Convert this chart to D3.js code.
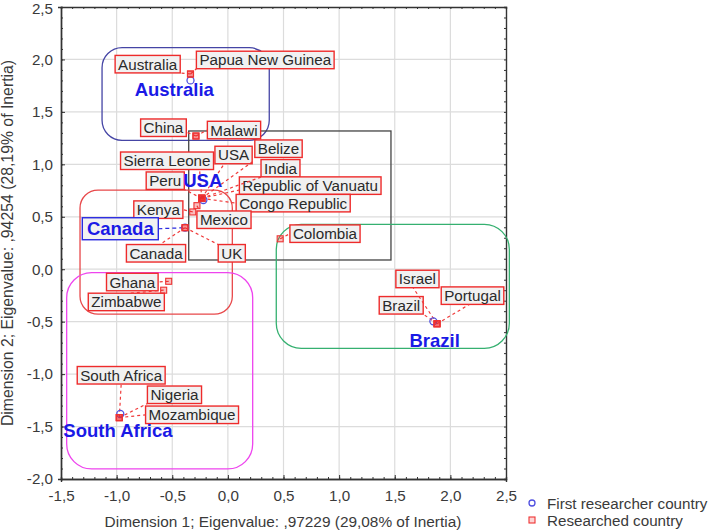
<!DOCTYPE html>
<html>
<head>
<meta charset="utf-8">
<script src="https://cdn.jsdelivr.net/npm/d3@7"></script>
<style>
  html, body { margin: 0; padding: 0; background: #fff; }
  svg { display: block; font-family: "Liberation Sans", Arial, sans-serif; }
</style>
</head>
<body>
<svg width="709" height="532"></svg>
<script>
/* Data */
const xTicks = [-1.5, -1, -0.5, 0, 0.5, 1, 1.5, 2, 2.5];
const yTicks = [-2, -1.5, -1, -0.5, 0, 0.5, 1, 1.5, 2, 2.5];

const researchedNames = ['Australia', 'Papua New Guinea', 'China', 'Malawi', 'USA', 'Belize', 'Sierra Leone', 'India',
  'Peru', 'Republic of Vanuatu', 'Congo Republic', 'Kenya', 'Mexico', 'Colombia', 'Canada', 'UK',
  'Ghana', 'Zimbabwe', 'South Africa', 'Nigeria', 'Mozambique', 'Israel', 'Portugal', 'Brazil'];
const researchedX = [-0.336, -0.336, -0.287, -0.287, -0.235, -0.235, -0.235, -0.235,
  -0.235, -0.235, -0.235, -0.316, -0.278, 0.47, -0.385, -0.385,
  -0.532, -0.577, -0.976, -0.976, -0.976, 1.88, 1.88, 1.88];
const researchedY = [1.861, 1.861, 1.27, 1.27, 0.676, 0.676, 0.676, 0.676,
  0.676, 0.676, 0.676, 0.546, 0.606, 0.29, 0.396, 0.396,
  -0.115, -0.2, -1.415, -1.415, -1.415, -0.52, -0.52, -0.52];

const firstNames = ['Australia', 'USA', 'Canada', 'South Africa', 'Brazil'];
const firstX = [-0.336, -0.22, -0.385, -0.967, 1.847];
const firstY = [1.8, 0.66, 0.396, -1.38, -0.497];

/* Label placement, in axis units: centre of box, then where the leader meets it (-1..1 of the box) */
const labelX = [-0.721, 0.336, -0.579, 0.055, 0.051, 0.455, -0.547, 0.473,
  -0.563, 0.74, 0.587, -0.625, -0.035, 0.873, -0.646, 0.035,
  -0.859, -0.913, -0.959, -0.48, -0.322, 1.704, 2.199, 1.558];
const labelY = [1.955, 1.995, 1.349, 1.327, 1.089, 1.149, 1.034, 0.962,
  0.844, 0.797, 0.63, 0.568, 0.472, 0.339, 0.152, 0.152,
  -0.122, -0.312, -1.011, -1.197, -1.388, -0.093, -0.252, -0.344];
const leaderU = [1, -1, 1, -1, -0.5, -1.1, 0.7, -1, 1, -1, -1, 1, -0.9, -1, 0.13, -1, 1, 0.1, 0, -1, -1, -0.2, -0.1, 1];
const leaderV = [1, 1, 0.5, 0, 1, 1.5, 1, 1, 1, 0.5, 0, 0, -1, 0, -1, -1, 0, -1, 1, 1, 0, 1, 1, 1];

const firstLabelX = [-0.482, -0.226, -0.967, -0.988, 1.859];
const firstLabelY = [1.709, 0.841, 0.386, -1.542, -0.684];

/* Cluster outlines, in axis units */
const clusterColors = ['#4545a5', '#444444', '#e8484a', '#35b070', '#ee44ee'];
const clusterX0 = [-1.131, -0.352, -1.329, 0.435, -1.449];
const clusterX1 = [0.372, 1.466, 0.04, 2.53, 0.223];
const clusterY0 = [1.229, 0.088, -0.429, -0.754, -1.904];
const clusterY1 = [2.112, 1.318, 0.755, 0.428, -0.033];
const clusterRadius = [20, 0, 18, 25, 25];

/* Scales */
const svg = d3.select('svg');
const x = d3.scaleLinear().domain([-1.5, 2.5]).range([61, 506]);
const y = d3.scaleLinear().domain([-2, 2.5]).range([479, 7]);
const fmt = (d) => d.toFixed(1).replace('.', ',');
const TEXT_SIZE = '15.2px';

/* Grid */
svg.append('g').selectAll('line').data(xTicks.slice(1, -1)).enter().append('line')
  .attr('x1', x).attr('x2', x).attr('y1', y(-2)).attr('y2', y(2.5))
  .attr('stroke', '#dcdcdc').attr('stroke-width', 1.2);
svg.append('g').selectAll('line').data(yTicks.slice(1, -1)).enter().append('line')
  .attr('y1', y).attr('y2', y).attr('x1', x(-1.5)).attr('x2', x(2.5))
  .attr('stroke', '#dcdcdc').attr('stroke-width', 1.2);

/* Axes */
const drawAxis = (axis, translate) => {
  const g = svg.append('g').attr('transform', translate).call(axis);
  g.selectAll('text').attr('fill', '#3a3a3a').style('font-size', TEXT_SIZE);
  g.selectAll('line').attr('stroke', '#333');
  g.select('.domain').attr('stroke', '#333').attr('stroke-width', 1.4);
  return g;
};
const minorX = d3.range(-1.5, 2.51, 0.1);
const minorY = d3.range(-2, 2.51, 0.1);
const bottom = drawAxis(d3.axisBottom(x).tickValues(xTicks).tickFormat(fmt).tickSize(3).tickPadding(8), `translate(0,${y(-2)})`);
const left = drawAxis(d3.axisLeft(y).tickValues(yTicks).tickFormat(fmt).tickSize(3).tickPadding(5), `translate(${x(-1.5)},0)`);
drawAxis(d3.axisTop(x).tickValues(minorX).tickFormat('').tickSize(-2), `translate(0,${y(2.5)})`);
drawAxis(d3.axisRight(y).tickValues(minorY).tickFormat('').tickSize(-2), `translate(${x(2.5)},0)`);
drawAxis(d3.axisBottom(x).tickValues(minorX).tickFormat('').tickSize(-2), `translate(0,${y(-2)})`);
drawAxis(d3.axisLeft(y).tickValues(minorY).tickFormat('').tickSize(-2), `translate(${x(-1.5)},0)`);
bottom.selectAll('.tick line').attr('y2', -4);
left.selectAll('.tick line').attr('x2', 4);
// top label would clip against the page edge
left.selectAll('.tick text').filter(d => d === 2.5).attr('y', 2);

/* Axis titles */
svg.append('text').attr('x', 283).attr('y', 527).attr('text-anchor', 'middle')
  .attr('fill', '#3a3a3a').style('font-size', '15.4px')
  .text('Dimension 1; Eigenvalue: ,97229 (29,08% of Inertia)');
svg.append('text').attr('transform', 'translate(13,243) rotate(-90)').attr('text-anchor', 'middle')
  .attr('fill', '#3a3a3a').style('font-size', '15.8px')
  .text('Dimension 2; Eigenvalue: ,94254 (28,19% of Inertia)');

/* Cluster outlines */
svg.append('g').selectAll('rect').data(clusterColors).enter().append('rect')
  .attr('x', (d, i) => x(clusterX0[i]))
  .attr('y', (d, i) => y(clusterY1[i]))
  .attr('width', (d, i) => x(clusterX1[i]) - x(clusterX0[i]))
  .attr('height', (d, i) => y(clusterY0[i]) - y(clusterY1[i]))
  .attr('rx', (d, i) => clusterRadius[i])
  .attr('fill', 'none').attr('stroke', d => d).attr('stroke-width', 1.3);

/* Leaders and boxed labels */
const BOX_H = 17.5;
const labels = svg.append('g');
const leaders = svg.append('g');
const boxes = labels.selectAll('g').data(researchedNames).enter().append('g');
boxes.append('rect').attr('fill', '#f1f1f1').attr('stroke', '#ee2b2b').attr('stroke-width', 1.4);
boxes.append('text')
  .attr('x', (d, i) => x(labelX[i])).attr('y', (d, i) => y(labelY[i]) + 5.5)
  .attr('text-anchor', 'middle').attr('fill', '#2a2a2a').style('font-size', TEXT_SIZE)
  .text(d => d);
boxes.each(function (d, i) {
  const w = this.querySelector('text').getComputedTextLength() + 6;
  const cx = x(labelX[i]), cy = y(labelY[i]);
  d3.select(this).select('rect')
    .attr('x', cx - w / 2).attr('y', cy - BOX_H / 2)
    .attr('width', w).attr('height', BOX_H);
  leaders.append('line')
    .attr('x1', x(researchedX[i])).attr('y1', y(researchedY[i]))
    .attr('x2', cx + leaderU[i] * w / 2).attr('y2', cy + leaderV[i] * BOX_H / 2)
    .attr('stroke', '#f03a3a').attr('stroke-width', 1.2).attr('stroke-dasharray', '3,3');
});

/* Blue dashed leader for the Canada box */
const CANADA = firstNames.indexOf('Canada');
svg.append('line')
  .attr('x1', x(firstLabelX[CANADA]) + 38).attr('x2', x(firstX[CANADA]))
  .attr('y1', y(firstLabelY[CANADA])).attr('y2', y(firstY[CANADA]))
  .attr('stroke', '#2a2ae0').attr('stroke-width', 1.2).attr('stroke-dasharray', '4,3');

/* Points */
svg.append('g').selectAll('circle').data(firstNames).enter().append('circle')
  .attr('cx', (d, i) => x(firstX[i])).attr('cy', (d, i) => y(firstY[i])).attr('r', 3.5)
  .attr('fill', 'none').attr('stroke', '#5050e0').attr('stroke-width', 1.3);
svg.append('g').selectAll('rect').data(researchedNames).enter().append('rect')
  .attr('x', (d, i) => x(researchedX[i]) - 3).attr('y', (d, i) => y(researchedY[i]) - 3)
  .attr('width', 6).attr('height', 6)
  .attr('fill', 'rgba(240,40,40,0.3)').attr('stroke', '#ee3333').attr('stroke-width', 1.1);

/* Blue labels */
const blue = svg.append('g').selectAll('g').data(firstNames).enter().append('g');
blue.append('text')
  .attr('x', (d, i) => x(firstLabelX[i])).attr('y', (d, i) => y(firstLabelY[i]) + 6)
  .attr('text-anchor', 'middle').attr('fill', '#1a1ae6')
  .style('font-size', '18.5px').style('font-weight', 'bold')
  .text(d => d);
blue.filter(d => d === 'Canada').insert('rect', 'text')
  .attr('x', x(firstLabelX[CANADA]) - 38).attr('y', y(firstLabelY[CANADA]) - 11)
  .attr('width', 76).attr('height', 22)
  .attr('fill', '#f1f1f1').attr('stroke', '#2a2ae0').attr('stroke-width', 1.4);

/* Legend */
const legend = svg.append('g');
legend.append('circle').attr('cx', 532).attr('cy', 503).attr('r', 3)
  .attr('fill', 'none').attr('stroke', '#5050e0').attr('stroke-width', 1.3);
legend.append('rect').attr('x', 529).attr('y', 517).attr('width', 6).attr('height', 6)
  .attr('fill', 'rgba(240,40,40,0.2)').attr('stroke', '#ee3333').attr('stroke-width', 1.1);
legend.append('text').attr('x', 547).attr('y', 509).attr('fill', '#3a3a3a').style('font-size', TEXT_SIZE).text('First researcher country');
legend.append('text').attr('x', 547).attr('y', 526).attr('fill', '#3a3a3a').style('font-size', TEXT_SIZE).text('Researched country');
</script>
</body>
</html>
